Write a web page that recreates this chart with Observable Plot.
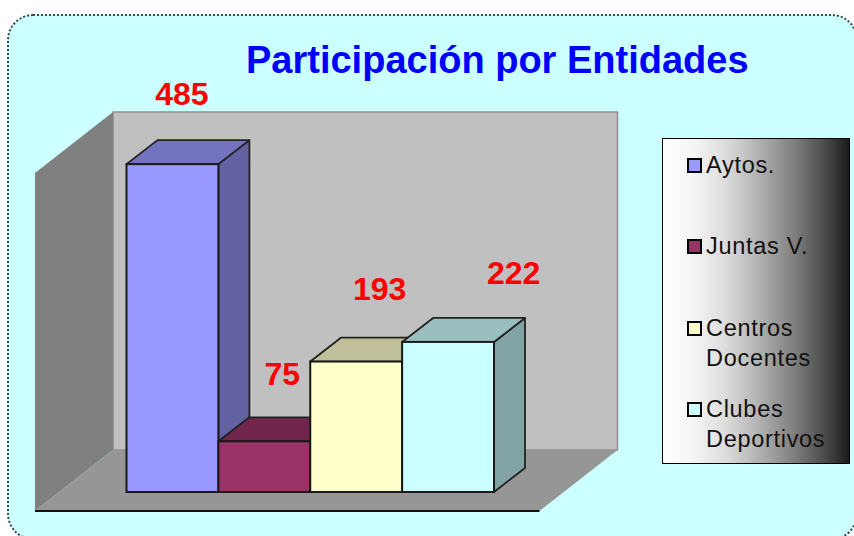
<!DOCTYPE html>
<html>
<head>
<meta charset="utf-8">
<script src="https://cdn.jsdelivr.net/npm/d3@7"></script>
<script src="https://cdn.jsdelivr.net/npm/@observablehq/plot@0.6"></script>
<style>
html,body{margin:0;padding:0;background:#fff;}
#stage{position:relative;width:854px;height:536px;overflow:hidden;font-family:"Liberation Sans",Arial,sans-serif;}
#panel{position:absolute;left:7px;top:14px;width:851px;height:526px;box-sizing:border-box;background:#CCFFFF;border:2px dotted #444;border-radius:26px;}
#title{position:absolute;left:246px;top:38px;font-size:38px;font-weight:bold;color:#0000FF;white-space:nowrap;line-height:44px;}
#chart{position:absolute;left:0;top:0;}
#legend{position:absolute;left:662px;top:138px;width:188px;height:326px;box-sizing:border-box;border:1px solid #000;background:linear-gradient(to right,#fff 0%,#f5f5f5 16%,#dcdcdc 34%,#b0b0b0 52%,#808080 70%,#484848 88%,#1a1a1a 100%);}
.item{position:absolute;left:43px;font-size:23.5px;letter-spacing:.7px;line-height:30px;color:#111;white-space:pre;}
.sw{position:absolute;left:24px;width:15px;height:15px;box-sizing:border-box;border:2px solid #000;}
</style>
</head>
<body>
<div id="stage">
  <div id="panel"></div>
  <div id="title"></div>
  <div id="chart"></div>
  <div id="legend"></div>
</div>
<script>
const titleText = "Participación por Entidades";
const categories = ["Aytos.", "Juntas V.", "Centros Docentes", "Clubes Deportivos"];
const values = [485, 75, 193, 222];
const frontColors = ["#9999FF", "#993366", "#FFFFCC", "#CCFFFF"];
const topColors = ["#7373BF", "#73264D", "#BFBF99", "#99BFBF"];
const sideColors = ["#6262A3", "#622041", "#A3A382", "#82A3A3"];
const legendLines = [["Aytos."], ["Juntas V."], ["Centros", "Docentes"], ["Clubes", "Deportivos"]];
const legendTops = [11, 92, 174, 255];
const labelDx = [9, 17.5, 23, 65];
const labelDy = [-70, -67, -72, -69];
const yMax = 500;

const barDepth = {dx: 31, dy: -24};
const wall = {left: -91.5, right: 45.5, gapY: 19, dx: 78, dy: -61};

const rows = categories.map((c, i) => ({category: c, value: values[i], i}));

function poly(pts, fill, stroke, sw) {
  const p = document.createElementNS("http://www.w3.org/2000/svg", "polygon");
  p.setAttribute("points", pts.map(q => q.join(",")).join(" "));
  p.setAttribute("fill", fill);
  if (stroke) { p.setAttribute("stroke", stroke); p.setAttribute("stroke-width", sw); p.setAttribute("stroke-linejoin", "round"); }
  return p;
}
function group(items) {
  const g = document.createElementNS("http://www.w3.org/2000/svg", "g");
  items.forEach(n => g.appendChild(n));
  return g;
}

// Back wall, left wall and floor, placed from the y scale's 0 and maximum
function wallsMark(index, {x, y}) {
  const x0 = x(categories[0]) + wall.left;
  const x1 = x(categories[3]) + x.bandwidth() + wall.right;
  const b = y(0) + wall.gapY, t = y(yMax) + wall.gapY;
  const {dx, dy} = wall;
  const line = document.createElementNS("http://www.w3.org/2000/svg", "line");
  line.setAttribute("x1", x0); line.setAttribute("x2", x1);
  line.setAttribute("y1", b); line.setAttribute("y2", b);
  line.setAttribute("stroke", "#111"); line.setAttribute("stroke-width", 2);
  return group([
    poly([[x0 + dx, t + dy], [x1 + dx, t + dy], [x1 + dx, b + dy], [x0 + dx, b + dy]], "#C0C0C0", "#8f8f8f", 1.5),
    poly([[x0, t], [x0 + dx, t + dy], [x0 + dx, b + dy], [x0, b]], "#808080"),
    poly([[x0, b], [x0 + dx, b + dy], [x1 + dx, b + dy], [x1, b]], "#969696"),
    line
  ]);
}

// Top and side faces of each bar, from the same scales as the fronts
function depthMark(index, {x, y}) {
  const {dx, dy} = barDepth, w = x.bandwidth(), b = y(0);
  const faces = [];
  rows.forEach(d => {
    const l = x(d.category), r = l + w, t = y(d.value);
    faces.push(poly([[r, t], [r + dx, t + dy], [r + dx, b + dy], [r, b]], sideColors[d.i], "#222", 1.8));
    faces.push(poly([[l, t], [r, t], [r + dx, t + dy], [l + dx, t + dy]], topColors[d.i], "#222", 1.8));
  });
  return group(faces);
}

const chart = Plot.plot({
  width: 854,
  height: 536,
  marginLeft: 126.5,
  marginRight: 360,
  marginTop: 154,
  marginBottom: 44,
  style: {background: "transparent", overflow: "visible"},
  x: {domain: categories, padding: 0, round: false, axis: null},
  y: {domain: [0, yMax], axis: null},
  color: {domain: categories, range: frontColors},
  marks: [
    wallsMark,
    depthMark,
    Plot.barY(rows, {x: "category", y: "value", fill: "category", stroke: "#1a1a1a", strokeWidth: 2, inset: 0}),
    ...rows.map((d, i) => Plot.text([d], {
      x: "category", y: "value", text: "value", dx: labelDx[i], dy: labelDy[i],
      fill: "#FF0000", fontSize: 32, fontWeight: "bold", fontFamily: "Liberation Sans, Arial, sans-serif"
    }))
  ]
});
document.getElementById("chart").appendChild(chart);
document.getElementById("title").textContent = titleText;

const legend = document.getElementById("legend");
legendLines.forEach((lines, i) => {
  const sw = document.createElement("div");
  sw.className = "sw";
  sw.style.top = (legendTops[i] + 8) + "px";
  sw.style.background = frontColors[i];
  legend.appendChild(sw);
  const t = document.createElement("div");
  t.className = "item";
  t.style.top = legendTops[i] + "px";
  t.textContent = lines.join("\n");
  legend.appendChild(t);
});
</script>
</body>
</html>
